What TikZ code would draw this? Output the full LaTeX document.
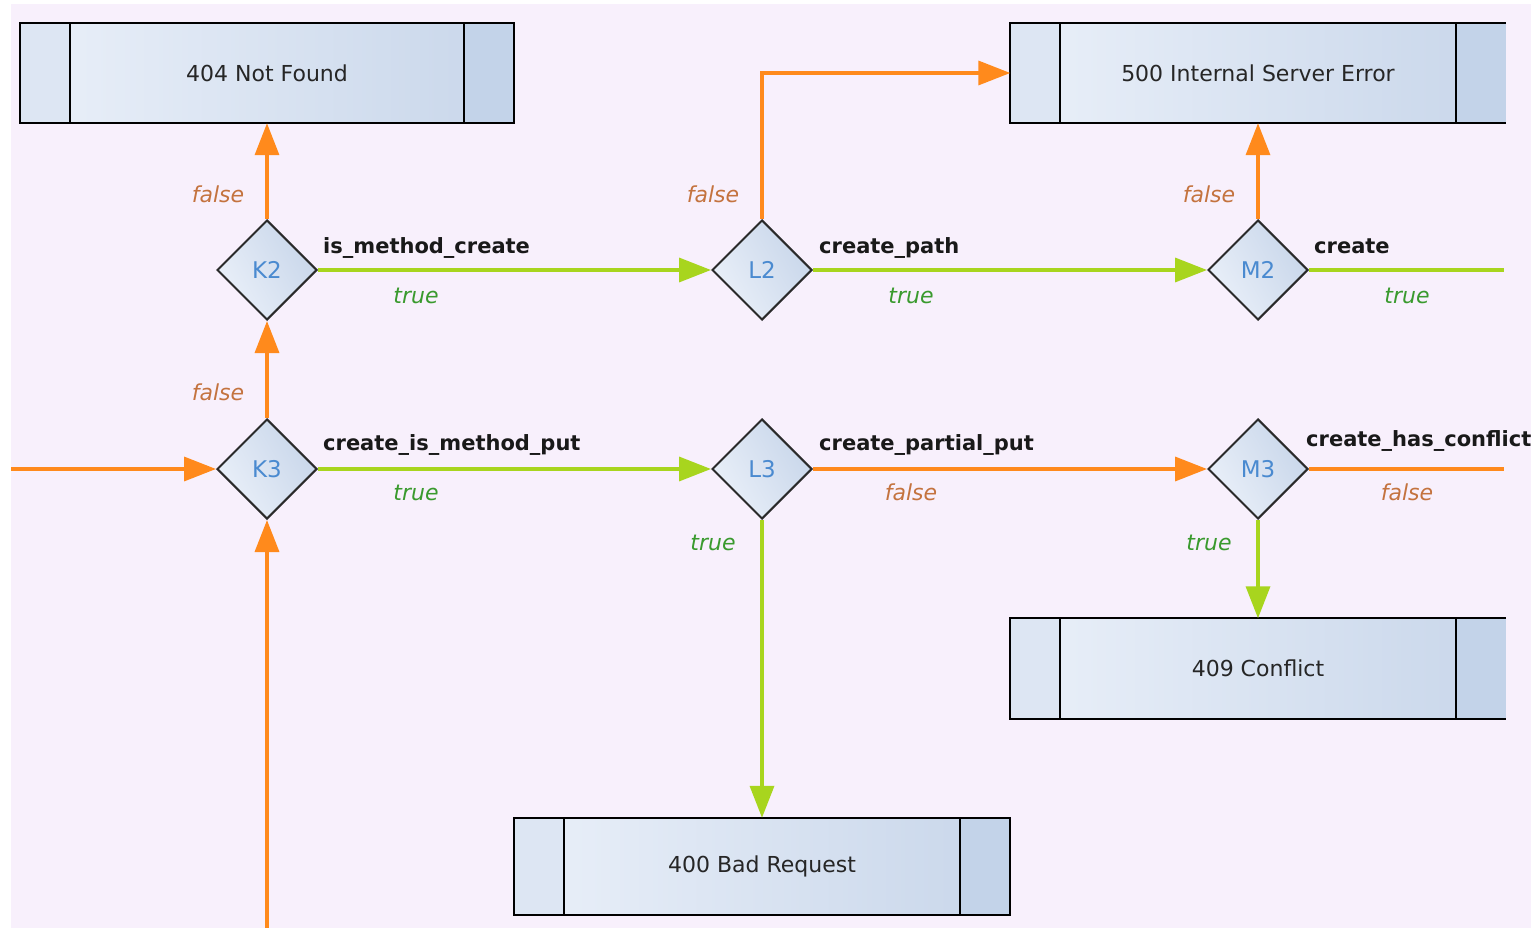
\documentclass[tikz,border=0pt]{standalone}
\usepackage{fontspec}
\setmainfont{DejaVu Sans}
\usetikzlibrary{shapes.geometric,arrows.meta}
\definecolor{bg}{HTML}{F8F0FC}
\definecolor{edgeorange}{HTML}{FF8A1C}
\definecolor{edgegreen}{HTML}{A8D51E}
\definecolor{falsetext}{HTML}{C4733F}
\definecolor{truetext}{HTML}{3A9A2E}
\definecolor{diatext}{HTML}{4A8AD0}
\definecolor{boxlight}{HTML}{EAF0F9}
\definecolor{boxdark}{HTML}{C8D6EA}
\definecolor{stripleft}{HTML}{DDE6F3}
\definecolor{stripright}{HTML}{C3D3E9}
\definecolor{diaborder}{HTML}{2A2A2A}
\begin{document}
\begin{tikzpicture}[x=1pt,y=-1pt,
  txt/.style={font=\fontsize{22}{26}\selectfont},
  dia/.style={diamond, draw=diaborder, line width=2pt, minimum width=100pt, minimum height=100pt,
    inner sep=0pt, left color=boxlight, right color=boxdark, shading angle=120,
    font=\fontsize{23}{26}\selectfont, text=diatext},
  sbox/.style={rectangle, minimum height=100pt, inner sep=0pt, left color=boxlight, right color=boxdark},
  bline/.style={draw=black, line width=2pt},
  fedge/.style={draw=edgeorange, line width=3.5pt, -{Triangle[length=32pt,width=24pt]}},
  tedge/.style={draw=edgegreen, line width=3.5pt, -{Triangle[length=32pt,width=24pt]}},
  fedgeplain/.style={draw=edgeorange, line width=3.5pt},
  tedgeplain/.style={draw=edgegreen, line width=3.5pt},
  flab/.style={font=\fontsize{22}{26}\selectfont\itshape, text=falsetext, text height=16pt, text depth=4pt, inner sep=0pt},
  tlab/.style={font=\fontsize{22}{26}\selectfont\itshape, text=truetext, text height=16pt, text depth=4pt, inner sep=0pt},
  elab/.style={font=\fontsize{21}{25}\selectfont\bfseries, text=black!90, text height=16pt, text depth=4pt, inner sep=0pt, anchor=west},
]
\useasboundingbox (0,0) rectangle (1531,928);
\fill[bg] (11,4) rectangle (1531,928);

% ---- status boxes ----
% 404
\node[sbox, minimum width=493pt] (nf) at (267,73) {};
\fill[stripleft] (nf.north west) rectangle ([xshift=50pt]nf.south west);
\fill[stripright] ([xshift=-50pt]nf.north east) rectangle (nf.south east);
\draw[bline] (nf.north west) rectangle (nf.south east);
\draw[bline] ([xshift=50pt]nf.north west) -- ([xshift=50pt]nf.south west);
\draw[bline] ([xshift=-50pt]nf.north east) -- ([xshift=-50pt]nf.south east);
\node[txt, text=black!85] (nft) at (nf.center) {404 Not Found};

% 500
\node[sbox, minimum width=495pt] (ise) at (1258,73) {};
\fill[stripleft] (ise.north west) rectangle ([xshift=50pt]ise.south west);
\fill[stripright] ([xshift=446pt]ise.north west) rectangle (ise.south east);
\draw[bline] (ise.north east) -- (ise.north west) -- (ise.south west) -- (ise.south east);
\draw[bline] ([xshift=50pt]ise.north west) -- ([xshift=50pt]ise.south west);
\draw[bline] ([xshift=446pt]ise.north west) -- ([xshift=446pt]ise.south west);
\node[txt, text=black!85] (iset) at (1258,73) {500 Internal Server Error};

% 409
\node[sbox, minimum width=495pt] (cf) at (1258,668.5) {};
\fill[stripleft] (cf.north west) rectangle ([xshift=50pt]cf.south west);
\fill[stripright] ([xshift=446pt]cf.north west) rectangle (cf.south east);
\draw[bline] (cf.north east) -- (cf.north west) -- (cf.south west) -- (cf.south east);
\draw[bline] ([xshift=50pt]cf.north west) -- ([xshift=50pt]cf.south west);
\draw[bline] ([xshift=446pt]cf.north west) -- ([xshift=446pt]cf.south west);
\node[txt, text=black!85] (cft) at (1258,668.5) {409 Conflict};

% 400
\node[sbox, minimum width=495pt, minimum height=97pt] (br) at (762,866.5) {};
\fill[stripleft] (br.north west) rectangle ([xshift=50pt]br.south west);
\fill[stripright] ([xshift=-50pt]br.north east) rectangle (br.south east);
\draw[bline] (br.north west) rectangle (br.south east);
\draw[bline] ([xshift=50pt]br.north west) -- ([xshift=50pt]br.south west);
\draw[bline] ([xshift=-50pt]br.north east) -- ([xshift=-50pt]br.south east);
\node[txt, text=black!85] (brt) at (br.center) {400 Bad Request};

% ---- decisions ----
\node[dia] (K2) at (267,270) {K2};
\node[dia] (K3) at (267,469) {K3};
\node[dia] (L2) at (762,270) {L2};
\node[dia] (L3) at (762,469) {L3};
\node[dia] (M2) at (1258,270) {M2};
\node[dia] (M3) at (1258,469) {M3};

\coordinate (entry) at (11,469);
\coordinate (bottomin) at (267,928);
\coordinate (m2out) at (1504,270);
\coordinate (m3out) at (1504,469);

% ---- connectors ----
\draw[fedge] (entry) -- (K3.west);
\draw[fedge] (bottomin) -- (K3.south);
\draw[fedge] (K3.north) -- (K2.south);
\draw[fedge] (K2.north) -- (nf.south);
\draw[tedge] (K2.east) -- (L2.west);
\draw[tedge] (K3.east) -- (L3.west);
\draw[fedge] (L2.north) |- (ise.west);
\draw[tedge] (L2.east) -- (M2.west);
\draw[fedge] (L3.east) -- (M3.west);
\draw[tedge] (L3.south) -- (br.north);
\draw[fedge] (M2.north) -- (ise.south);
\draw[tedgeplain] (M2.east) -- (m2out);
\draw[tedge] (M3.south) -- (cf.north);
\draw[fedgeplain] (M3.east) -- (m3out);

% ---- labels ----
\node[flab] (lf1) at (218,197) {false};
\node[flab] (lf2) at (218,394) {false};
\node[flab] (lf3) at (713,197) {false};
\node[flab] (lf4) at (1209,197) {false};
\node[flab] (lf5) at (911,494) {false};
\node[flab] (lf6) at (1407,494) {false};
\node[tlab] (lt1) at (416,297) {true};
\node[tlab] (lt2) at (911,297) {true};
\node[tlab] (lt3) at (1407,297) {true};
\node[tlab] (lt4) at (416,494) {true};
\node[tlab] (lt5) at (713,544) {true};
\node[tlab] (lt6) at (1209,544) {true};

\node[elab] (e1) at (323,247) {is\_method\_create};
\node[elab] (e2) at (819,247) {create\_path};
\node[elab] (e3) at (1314,247) {create};
\node[elab] (e4) at (323,444) {create\_is\_method\_put};
\node[elab] (e5) at (819,444) {create\_partial\_put};
\node[elab] (e6) at (1306,440) {create\_has\_conflict};
\end{tikzpicture}
\end{document}
